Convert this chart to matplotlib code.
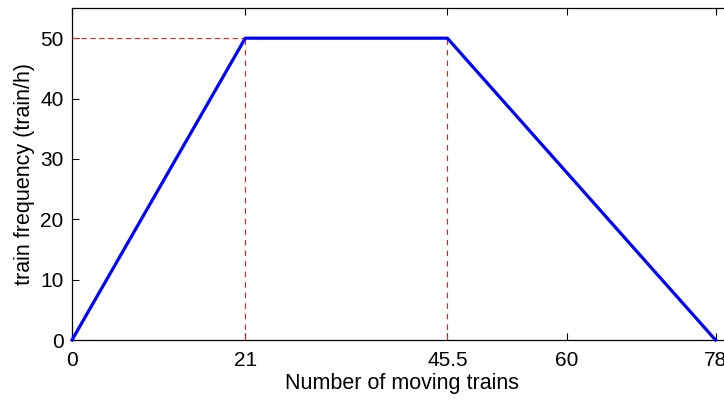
import matplotlib
matplotlib.use("Agg")
import matplotlib.pyplot as plt

plt.rcParams['font.family'] = ['Liberation Sans', 'DejaVu Sans']

# data
trains = [0, 21, 45.5, 78]
freq = [0, 50, 50, 0]
xticks = [0, 21, 45.5, 60, 78]
xticklabels = ['0', '21', '45.5', '60', '78']
yticks = [0, 10, 20, 30, 40, 50]
max_freq = 50
x_min, x_max = 0, 80
y_min, y_max = 0, 55

fig = plt.figure(figsize=(7.24, 4.01), dpi=100)
ax = fig.add_axes([72 / 724, 1 - 340 / 401, 660 / 724, 332 / 401])

ax.plot(trains, freq, color='#0000ff', lw=2.3, zorder=3, clip_on=False)

# reference lines
ax.plot([x_min, trains[1]], [max_freq, max_freq], color='#ff2020', ls=(0, (5, 3)), lw=0.8)
for xv in trains[1:3]:
    ax.plot([xv, xv], [y_min, max_freq], color='#e02020', ls=(0, (5, 4.5)), lw=0.8)

ax.set_xlim(x_min, x_max)
ax.set_ylim(y_min, y_max)
ax.set_xticks(xticks)
ax.set_xticklabels(xticklabels)
ax.set_yticks(yticks)
ax.tick_params(direction='in', top=True, right=True, length=5, width=0.8,
               labelsize=15, pad=6)
ax.tick_params(axis='x', pad=8)
for s in ax.spines.values():
    s.set_linewidth(0.9)

ax.set_xlabel('Number of moving trains', fontsize=15.5, labelpad=2)
ax.set_ylabel('train frequency (train/h)', fontsize=15.5, labelpad=4)

fig.savefig('out.png', dpi=100)
